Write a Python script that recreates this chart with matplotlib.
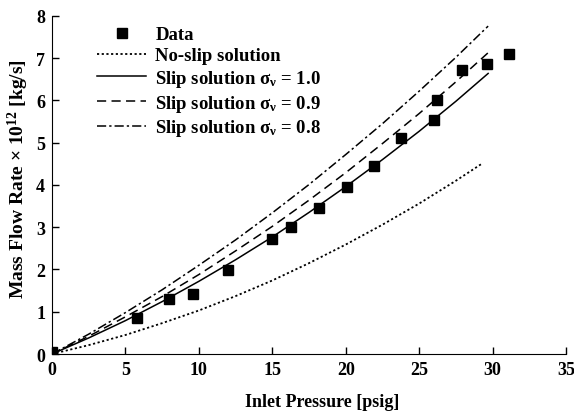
import matplotlib
matplotlib.use("Agg")
import matplotlib.pyplot as plt

plt.rcParams['font.family'] = ['Liberation Serif', 'DejaVu Serif']
plt.rcParams['font.weight'] = 'bold'
plt.rcParams['mathtext.fontset'] = 'custom'
plt.rcParams['mathtext.rm'] = 'Liberation Serif:bold'
plt.rcParams['mathtext.it'] = 'Liberation Serif:bold'
plt.rcParams['mathtext.bf'] = 'Liberation Serif:bold'

# measured data
data_p = [0.0, 5.8, 8.0, 9.6, 12.0, 15.0, 16.3, 18.2, 20.1, 21.9, 23.8, 26.0, 26.2, 27.9, 29.6, 31.1]
data_m = [0.04, 0.86, 1.29, 1.43, 1.98, 2.71, 3.0, 3.45, 3.95, 4.45, 5.12, 5.53, 6.01, 6.71, 6.86, 7.10]

# model curves
p_noslip = [0, 2.5, 5, 7.5, 10, 12.5, 15, 17.5, 20, 22.5, 25, 27.5, 29.3]
m_noslip = [0, 0.21, 0.45, 0.73, 1.03, 1.37, 1.74, 2.15, 2.59, 3.06, 3.56, 4.10, 4.51]

p_slip = [0, 2.5, 5, 7.5, 10, 12.5, 15, 17.5, 20, 22.5, 25, 27.5, 29.7]
m_slip10 = [0, 0.38, 0.79, 1.24, 1.72, 2.23, 2.77, 3.35, 3.96, 4.60, 5.27, 5.98, 6.64]
m_slip09 = [0, 0.42, 0.88, 1.36, 1.88, 2.44, 3.02, 3.64, 4.29, 4.98, 5.69, 6.44, 7.13]
m_slip08 = [0, 0.47, 0.98, 1.52, 2.10, 2.70, 3.34, 4.01, 4.72, 5.45, 6.22, 7.02, 7.76]

fig = plt.figure(figsize=(5.74, 4.14), dpi=100)
ax = fig.add_axes([0.0906, 0.1425, 0.8954, 0.8165])

ax.plot(data_p, data_m, 's', color='black', ms=6.5, label='Data')
ax.plot(p_noslip, m_noslip, color='black', lw=1.3, linestyle=(0, (1.2, 1.4)), label='No-slip solution')
ax.plot(p_slip, m_slip10, color='black', lw=1.1, linestyle='-', label='Slip solution σ$_{\\nu}$ = 1.0')
ax.plot(p_slip, m_slip09, color='black', lw=1.1, linestyle=(0, (6, 3.5)), label='Slip solution σ$_{\\nu}$ = 0.9')
ax.plot(p_slip, m_slip08, color='black', lw=1.1, linestyle=(0, (6, 2, 1.5, 2)), label='Slip solution σ$_{\\nu}$ = 0.8')

ax.set_xlim(0, 35)
ax.set_ylim(0, 8)
ax.set_xticks(range(0, 36, 5))
ax.set_yticks(range(0, 9))
ax.spines['top'].set_visible(False)
ax.spines['right'].set_visible(False)
ax.tick_params(direction='in', length=5, width=1, labelsize=13, pad=5)
for lab in ax.get_xticklabels() + ax.get_yticklabels():
    lab.set_fontweight('bold')

ax.set_xlabel('Inlet Pressure [psig]', fontsize=13, fontweight='bold')
ax.set_ylabel('Mass Flow Rate × 10$^{12}$ [kg/s]', fontsize=14, fontweight='bold')
ax.xaxis.set_label_coords(0.525, -0.115)
ax.yaxis.set_label_coords(-0.04, 0.52)

ax.legend(loc='upper left', bbox_to_anchor=(0.055, 1.02), frameon=False,
          handlelength=2.6, labelspacing=0.2, numpoints=1, handletextpad=0.5,
          prop={'weight': 'bold', 'size': 13.5})

fig.savefig('out.png', dpi=100)
